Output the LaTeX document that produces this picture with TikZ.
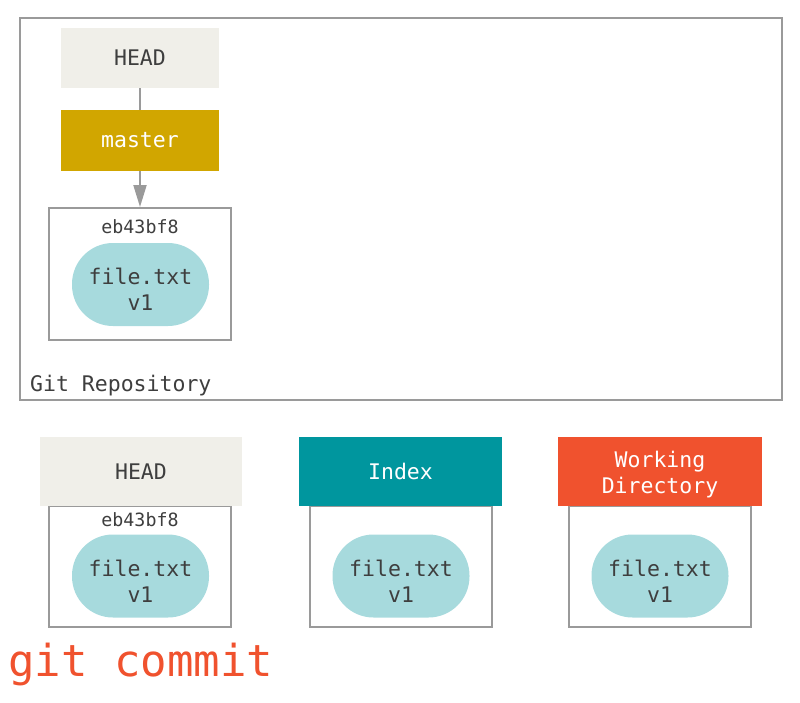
\documentclass[tikz,border=0pt]{standalone}
\usepackage{fontspec}
\setmonofont{DejaVu Sans Mono}
\usetikzlibrary{arrows.meta}

\definecolor{headgray}{HTML}{F0EFE9}
\definecolor{branchgold}{HTML}{D1A600}
\definecolor{indexteal}{HTML}{00969E}
\definecolor{workred}{HTML}{F0522E}
\definecolor{blobblue}{HTML}{A7DADD}
\definecolor{framegray}{HTML}{9A9A9A}
\definecolor{inkgray}{HTML}{3E3E3E}

\tikzset{
  mono/.style={font=\ttfamily\fontsize{21.5}{26}\selectfont, text=inkgray},
  header/.style={mono, minimum width=158pt, minimum height=60pt, inner sep=0pt, align=center},
  headbox/.style={header, fill=headgray},
  branch/.style={header, fill=branchgold, text=white},
  areabox/.style={draw=framegray, line width=2pt, minimum width=182pt, inner sep=0pt},
  blob/.style={mono, fill=blobblue, minimum width=137pt, minimum height=83pt,
    rounded corners=41pt, inner sep=0pt, align=center, text height=52pt, text depth=0pt},
  hash/.style={mono, font=\ttfamily\fontsize{18.3}{22}\selectfont},
  line/.style={draw=framegray, line width=2pt}
}

\begin{document}
\begin{tikzpicture}[x=1pt,y=-1pt]
        \useasboundingbox (0,0) rectangle (800,702);

        % repository
        \node[draw=framegray, line width=2pt, minimum width=762pt, minimum height=382pt, inner sep=0pt] (repo) at (401,209) {};
        \node[mono, anchor=west, inner sep=0pt] (repolabel) at (30,386) {Git Repository};

        \node[headbox] (repohead) at (140,58) {HEAD};
        \node[branch, minimum height=61pt] (master) at (140,140.5) {master};
        \node[areabox, minimum height=132pt] (repocommit) at (140,274) {};
        \node[hash] (repohash) at (140,227) {eb43bf8};
        \node[blob] (repoblob) at (140.5,284.5) {file.txt\\v1};

        \draw[line] (repohead) -- (master);
        \draw[line, -{Triangle[length=22pt,width=13pt]}, framegray] (master) -- (repocommit);

        % three trees
        \node[areabox, minimum height=121pt] (headarea) at (140,566.5) {};
        \node[areabox, minimum height=121pt] (indexarea) at (401,566.5) {};
        \node[areabox, minimum height=121pt] (workarea) at (660,566.5) {};

        \node[headbox, minimum width=202pt, minimum height=69pt] (headtree) at (141,471.5) {HEAD};
        \node[header, fill=indexteal, text=white, minimum width=203pt, minimum height=69pt] (indextree) at (400.5,471.5) {Index};
        \node[header, fill=workred, text=white, minimum width=204pt, minimum height=69pt,
          text height=48pt, text depth=5pt] (worktree) at (660,471.5) {Working\\Directory};

        \node[hash] (headhash) at (140,520) {eb43bf8};
        \node[blob] (headblob) at (140.5,576) {file.txt\\v1};
        \node[blob] (indexblob) at (401,576) {file.txt\\v1};
        \node[blob] (workblob) at (660,576) {file.txt\\v1};

        \node[font=\ttfamily\fontsize{44}{50}\selectfont, text=workred, anchor=west, inner sep=0pt] (command) at (8,664) {git commit};
\end{tikzpicture}
\end{document}
